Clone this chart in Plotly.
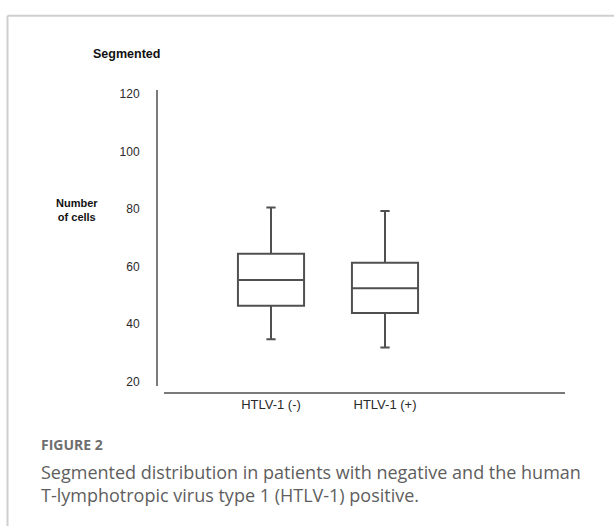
import plotly.graph_objects as go

# ---- data ----
categories = ["HTLV-1 (-)", "HTLV-1 (+)"]
upper_whisker = [80.5, 79.3]
q3_values = [64.5, 61.3]
median_values = [55.3, 52.5]
q1_values = [46.4, 43.9]
lower_whisker = [34.7, 31.9]
y_ticks = [20, 40, 60, 80, 100, 120]

W, H = 614, 529
def px(x):
    return x / W
def py(y):
    return 1 - y / H

fig = go.Figure()
fig.add_trace(go.Box(
    x=list(range(len(categories))),
    q1=q1_values, median=median_values, q3=q3_values,
    lowerfence=lower_whisker, upperfence=upper_whisker,
    width=0.58, whiskerwidth=0.14,
    line=dict(color="#505050", width=2),
    fillcolor="rgba(255,255,255,0)",
    boxpoints=False, showlegend=False, hoverinfo="skip",
))

arial = "Liberation Sans, Arial, sans-serif"
fig.update_layout(
    width=W, height=H,
    margin=dict(l=0, r=0, t=0, b=0),
    paper_bgcolor="white", plot_bgcolor="white",
    xaxis=dict(
        domain=[px(164), px(565)], anchor="free", position=py(394),
        range=[-0.9386, 2.579],
        tickmode="array", tickvals=list(range(len(categories))), ticktext=categories,
        showline=True, linecolor="#7a7a7a", linewidth=2,
        showgrid=False, zeroline=False, ticks="",
        tickfont=dict(family=arial, size=13, color="#2a2a2a"),
    ),
    yaxis=dict(
        domain=[py(387), py(88)], anchor="free", position=px(157),
        range=[18.63, 121.37],
        tickmode="array", tickvals=y_ticks,
        showline=True, linecolor="#7a7a7a", linewidth=2,
        showgrid=False, zeroline=False, ticks="",
        ticklabelstandoff=14,
        tickfont=dict(family=arial, size=12, color="#2a2a2a"),
    ),
    shapes=[
        dict(type="line", xref="paper", yref="paper", x0=px(7.5), x1=1, y0=py(13), y1=py(13),
             line=dict(color="#cfcfcf", width=2)),
        dict(type="line", xref="paper", yref="paper", x0=px(7.5), x1=px(7.5), y0=py(13), y1=0,
             line=dict(color="#cfcfcf", width=2)),
    ],
    annotations=[
        dict(text="<b>Segmented</b>", xref="paper", yref="paper", x=px(126), y=py(52),
             xanchor="center", yanchor="middle", showarrow=False,
             font=dict(family=arial, size=12.5, color="#111")),
        dict(text="<b>Number<br>of cells</b>", xref="paper", yref="paper", x=px(77), y=py(209),
             xanchor="center", yanchor="middle", showarrow=False,
             font=dict(family=arial, size=11, color="#111")),
        dict(text="<b>FIGURE 2</b>", xref="paper", yref="paper", x=px(39), y=py(447),
             xanchor="left", yanchor="middle", showarrow=False,
             font=dict(family="Open Sans, sans-serif", size=14, color="#6e6e6e")),
        dict(text="Segmented distribution in patients with negative and the human<br>"
                  "T-lymphotropic virus type 1 (HTLV-1) positive.",
             xref="paper", yref="paper", x=px(39), y=py(486),
             xanchor="left", yanchor="middle", align="left", showarrow=False,
             font=dict(family="Open Sans, sans-serif", size=18, color="#5e5e5e")),
    ],
)

fig.write_html(
    "out.html",
    config={"displayModeBar": False},
    post_script="document.body.style.margin='0';document.body.style.overflow='hidden';",
)
